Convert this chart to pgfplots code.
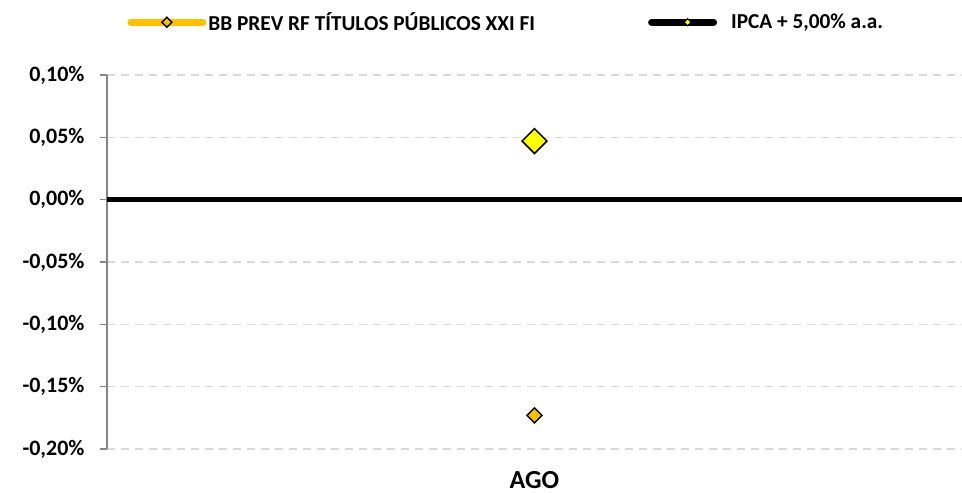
\documentclass[border=0pt]{standalone}
\usepackage{fontspec}
\setmainfont{Carlito}
\usepackage{pgfplots}
\pgfplotsset{compat=1.18}
\definecolor{ora}{RGB}{255,192,0}
\definecolor{yel}{RGB}{255,255,0}
\definecolor{grd}{RGB}{217,217,217}
\definecolor{axg}{RGB}{134,134,134}
\begin{document}
\begin{tikzpicture}
\useasboundingbox (0,0) rectangle (962pt,493pt);
\begin{axis}[
  at={(107pt,44pt)}, anchor=south west,
  scale only axis, width=855pt, height=374pt,
  xmin=-0.5, xmax=0.5, ymin=-0.2, ymax=0.1,
  xtick={0}, xticklabels={AGO},
  ytick={-0.2,-0.15,-0.1,-0.05,0,0.05,0.1},
  axis lines*=left,
  x axis line style={draw=none},
  y axis line style={axg, line width=1.5pt},
  xtick style={draw=none},
  ytick style={axg, line width=1.5pt},
  tick align=outside, major tick length=7pt,
  ymajorgrids,
  major grid style={grd, line width=1.5pt, dash pattern=on 8pt off 6pt},
  extra y ticks={0}, extra y tick labels={},
  extra y tick style={major grid style={black, line width=4.5pt, solid}, major tick length=0pt},
  yticklabel={\pgfmathprintnumber{\tick}\%},
  /pgf/number format/fixed,
  /pgf/number format/fixed zerofill,
  /pgf/number format/precision=2,
  /pgf/number format/use comma,
  /pgf/number format/assume math mode=true,
  yticklabel style={font=\fontsize{22}{26}\selectfont\bfseries, xshift=-12pt},
  xticklabel style={font=\fontsize{26}{30}\selectfont\bfseries, inner sep=0pt, yshift=-15pt},
  clip=false,
  legend columns=2,
  legend style={at={(0.467,1.141)}, anchor=center, draw=none, fill=none,
    font=\fontsize{21.3}{25}\selectfont\bfseries,
    /tikz/every even column/.append style={column sep=111pt}},
]
\addplot[only marks, mark=square*, mark size=5.3pt,
  mark options={rotate=45, fill=ora, draw=black, line width=1.5pt},
  legend image code/.code={
    \draw[line width=7pt, ora, line cap=round] (0pt,0pt) -- (72pt,0pt);
    \filldraw[fill=ora, draw=black, line width=1.5pt] (36pt,5pt) -- (41pt,0pt) -- (36pt,-5pt) -- (31pt,0pt) -- cycle;
  }] coordinates {(0,-0.173)};
\addlegendentry{BB PREV RF TÍTULOS PÚBLICOS XXI FI}
\addplot[only marks, mark=square*, mark size=8.8pt,
  mark options={rotate=45, fill=yel, draw=black, line width=1.5pt},
  legend image code/.code={
    \draw[line width=7pt, black, line cap=round] (0pt,0pt) -- (62pt,0pt);
    \filldraw[fill=yel, draw=black, line width=1pt] (36pt,3.5pt) -- (39.5pt,0pt) -- (36pt,-3.5pt) -- (32.5pt,0pt) -- cycle;
  }] coordinates {(0,0.047)};
\addlegendentry{\hspace{12pt}IPCA + 5,00\% a.a.}
\end{axis}
\end{tikzpicture}
\end{document}
